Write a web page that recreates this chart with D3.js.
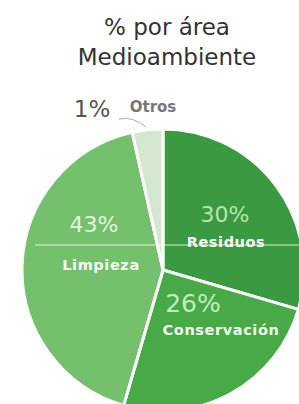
<!DOCTYPE html>
<html>
<head>
<meta charset="utf-8">
<script src="https://cdn.jsdelivr.net/npm/d3@7"></script>
<style>
  body { margin: 0; background: #fff; }
  svg { display: block; }
</style>
</head>
<body>
<svg id="base" width="299" height="404"></svg>
<script>
// slices clockwise from 12 o'clock
let categories = ["Residuos", "Conservación", "Limpieza", "Otros"]
let pctLabels = ["30%", "26%", "43%", "1%"]
let sliceShare = [29.5, 25, 42, 3.5] // drawn share
let sliceColors = ["#3b9a41", "#47aa47", "#74c06d", "#d4e8cf"]
let titleLines = ["% por área", "Medioambiente"]

const svg = d3.select('#base')
const cx = 163, cy = 270, r = 141
const font = 'DejaVu Sans, Verdana, sans-serif'

// title
svg.selectAll('text.title')
    .data(titleLines)
    .enter().append('text')
    .attr('class', 'title')
    .attr('x', 167)
    .attr('y', (d, i) => 35 + i * 30)
    .attr('text-anchor', 'middle')
    .style('font-family', font)
    .style('font-size', '23px')
    .style('fill', '#333')
    .text(d => d)

let rows = categories.map((c, i) => ({ cat: c, pct: pctLabels[i], v: sliceShare[i], col: sliceColors[i] }))
let pie = d3.pie().sort(null).value(d => d.v)
let arc = d3.arc().innerRadius(0).outerRadius(r)

const g = svg.append('g').attr('transform', `translate(${cx},${cy})`)
g.selectAll('path')
    .data(pie(rows))
    .enter().append('path')
    .attr('d', arc)
    .style('fill', d => d.data.col)
    .style('stroke', '#fff')
    .style('stroke-width', 3)
    .style('stroke-linejoin', 'round')

// faint scan line across the pie
svg.append('line')
    .attr('x1', 35).attr('x2', 299)
    .attr('y1', 245).attr('y2', 245)
    .style('stroke', 'rgba(255,255,255,0.55)')
    .style('stroke-width', 1.5)

// label positions (relative to centre) for pct and name
let labelPos = {
    "Residuos": { pct: [62, -48, 22], name: [63, -23] },
    "Conservación": { pct: [30, 42, 25], name: [58, 65] },
    "Limpieza": { pct: [-69, -38, 22], name: [-62, 0] },
}
let pctColors = { "Residuos": "#b9e4b0", "Conservación": "#c6ecbd", "Limpieza": "#e4f4de" }

Object.keys(labelPos).forEach(k => {
    let i = categories.indexOf(k)
    let p = labelPos[k]
    g.append('text')
        .attr('x', p.pct[0]).attr('y', p.pct[1])
        .attr('text-anchor', 'middle')
        .style('font-family', font)
        .style('font-size', p.pct[2] + 'px')
        .style('fill', pctColors[k])
        .text(pctLabels[i])
    g.append('text')
        .attr('x', p.name[0]).attr('y', p.name[1])
        .attr('text-anchor', 'middle')
        .style('font-family', font)
        .style('font-weight', 'bold')
        .style('font-size', '14.5px')
        .style('letter-spacing', '0.6px')
        .style('fill', '#f4fbf2')
        .text(k)
})

// Otros: label outside with leader
let oi = categories.indexOf("Otros")
svg.append('text')
    .attr('x', 92).attr('y', 117)
    .attr('text-anchor', 'middle')
    .style('font-family', font)
    .style('font-size', '23px')
    .style('fill', '#555')
    .text(pctLabels[oi])
svg.append('text')
    .attr('x', 153).attr('y', 112)
    .attr('text-anchor', 'middle')
    .style('font-family', font)
    .style('font-weight', 'bold')
    .style('font-size', '15px')
    .style('fill', '#777')
    .text(categories[oi])
svg.append('path')
    .attr('d', 'M119,119 Q133,116 146,127')
    .style('fill', 'none')
    .style('stroke', '#aaa')
    .style('stroke-width', 1)
</script>
</body>
</html>
